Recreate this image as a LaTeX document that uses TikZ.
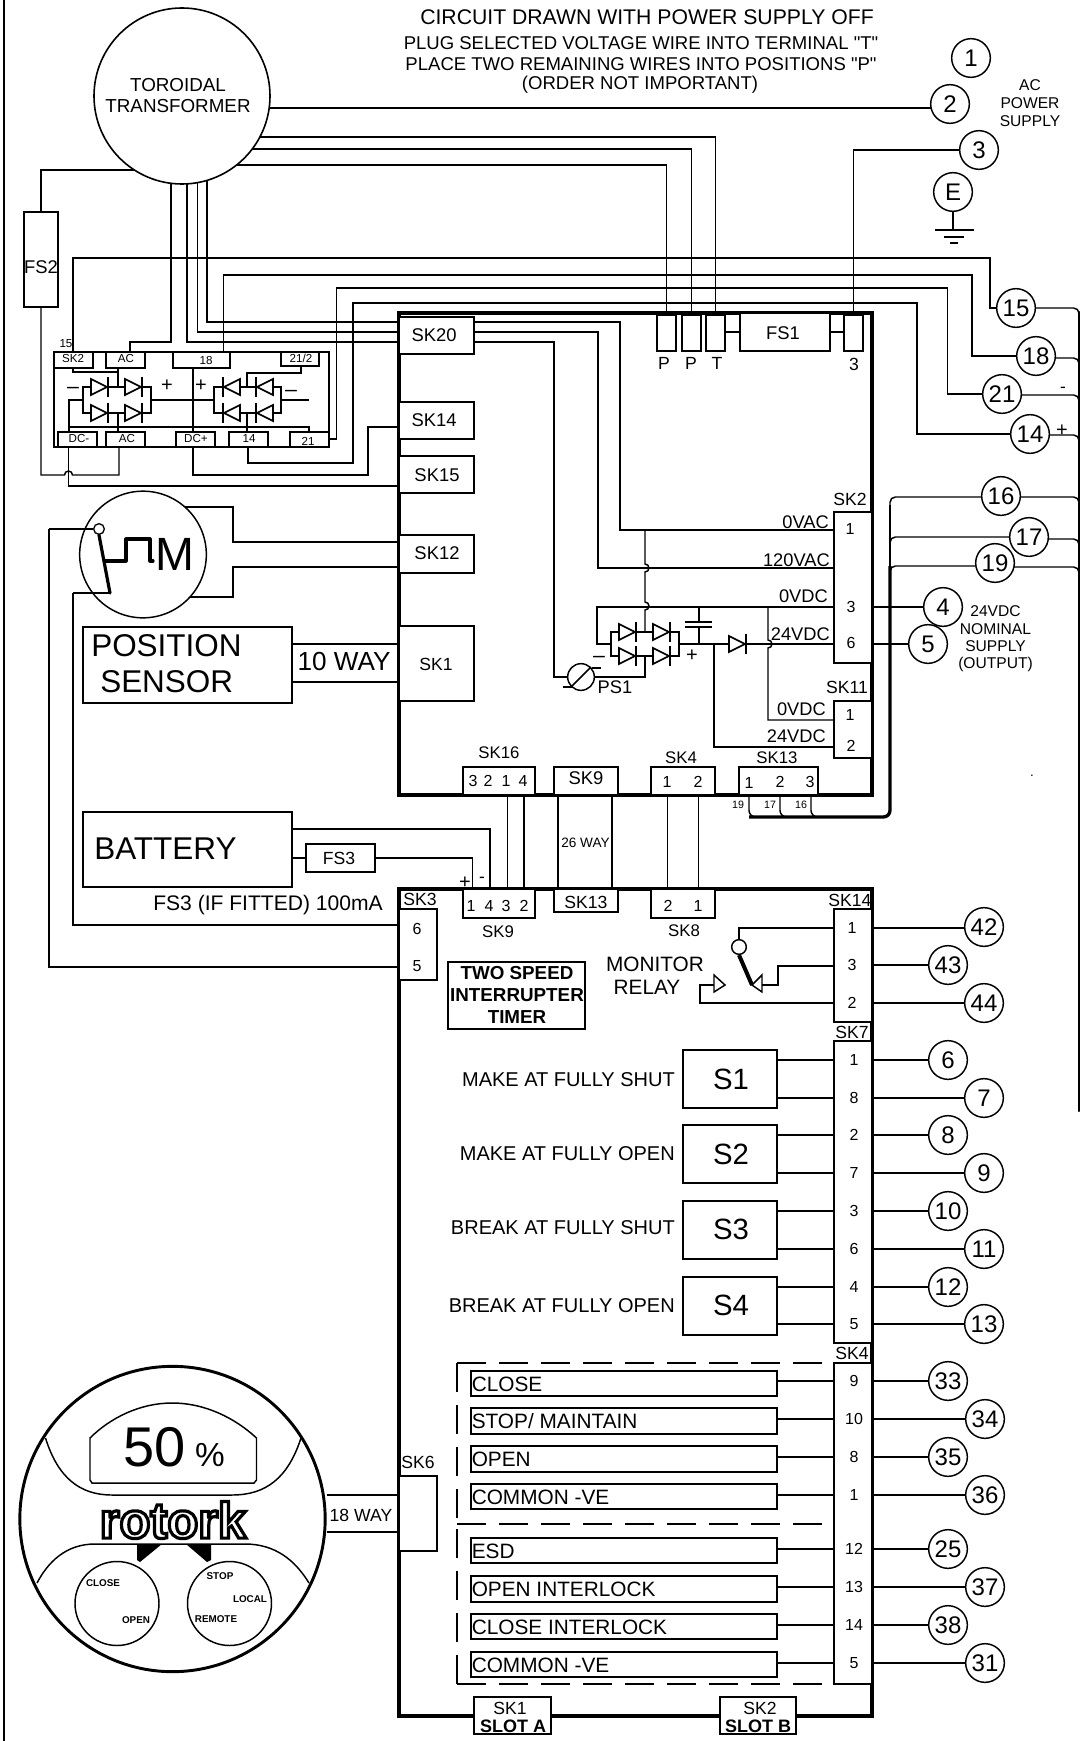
\documentclass[tikz,border=0pt]{standalone}
\usepackage{fontspec}
\setmainfont{Liberation Sans}
\newfontfamily\plainfont{Liberation Sans}
\usetikzlibrary{fit,backgrounds}
\def\bx#1#2#3#4{\node[#1, fit={(#3) (#4)}] (#2) {};}
\def\hop{arc[start angle=-90,end angle=90,radius=3pt]}
\tikzset{
  every node/.style={inner sep=0pt},
  fs/.style={font=\fontsize{#1}{#1}\selectfont},
  wire/.style={line width=1.1pt},
  box/.style={draw, fill=white, line width=1.1pt},
  board/.style={draw, line width=2.7pt},
  inbox/.style={draw, fill=white, line width=1.6pt},
  term/.style={circle, draw, fill=white, line width=1.1pt, minimum size=29pt, fs=18},
  bridge/.style={draw, line width=1.7pt},
  dashwire/.style={line width=1.1pt, dash pattern=on 21.5pt off 10pt},
  diode/.pic={
    \draw[line width=1.3pt, fill=white] (-9,-8) -- (7,0) -- (-9,8) -- cycle;
    \draw[line width=1.6pt] (8,-10) -- (8,10);
  }
}
\begin{document}
\begin{tikzpicture}[x=0.75pt, y=-0.75pt, line join=miter]
  \useasboundingbox (0,0) rectangle (1081,1741);
  \draw[line width=2.2pt] (4,0) -- (4,1741);

  % boards
  \bx{board}{brdu}{399,313}{872,795}
  \bx{board}{brdl}{399,889}{872,1716}

  % top board sockets
  \bx{box}{sk20}{399,317}{474,354}
  \bx{box}{sk14u}{399,402}{474,439}
  \bx{box}{sk15}{399,456}{474,493}
  \bx{box}{sk12}{399,535}{474,573}
  \bx{box}{sk1}{399,626}{474,701}
  \bx{box}{pa}{657,315}{676,351}
  \bx{box}{pb}{682,315}{701,351}
  \bx{box}{tbox}{706,315}{725,351}
  \bx{box}{fs1}{740,313}{830,351}
  \bx{box}{fb3}{844,315}{863,351}
  \bx{box}{sk2b}{834,512}{872,663}
  \bx{box}{sk11}{834,701}{872,758}
  \bx{box}{sk16}{463,767}{535,795}
  \bx{box}{sk9u}{554,767}{618,795}
  \bx{box}{sk4u}{651,767}{715,795}
  \bx{box}{sk13u}{739,767}{818,795}

  % lower board sockets
  \bx{box}{sk9l}{463,889}{535,918}
  \bx{box}{sk13l}{554,889}{618,912}
  \bx{box}{sk8}{651,889}{715,918}
  \bx{box}{sk3}{399,909}{437,980}
  \bx{box}{sk6}{399,1476}{437,1551}
  \bx{box}{sk14l}{834,909}{872,1022}
  \bx{box}{sk7}{834,1041}{872,1343}
  \bx{box}{sk4r}{834,1363}{872,1684}
  \bx{box}{slota}{474,1697}{551,1734}
  \bx{box}{slotb}{720,1697}{796,1734}
  \node[draw, fill=white, line width=1.6pt, fit={(448,962) (585,1029)}] (twospeed) {};

  % outside parts
  \node[circle, draw, fill=white, line width=1.2pt, minimum size=132pt] (tr) at (182,96) {};
  \bx{box}{fs2}{24,212}{58,307}
  \node[draw, line width=1.4pt, fit={(54,352) (329,447)}] (rect) {};
  \bx{box}{rsk2}{54,352}{93,368}
  \bx{box}{ract}{106,352}{145,368}
  \bx{box}{r18}{173,352}{230,368}
  \bx{box}{r212}{281,352}{319,366}
  \bx{box}{rdcm}{58,432}{97,447}
  \bx{box}{racb}{106,432}{145,447}
  \bx{box}{rdcp}{176,432}{215,447}
  \bx{box}{r14}{229,432}{268,447}
  \bx{box}{r21}{290,432}{329,447}
  \node[circle, draw, fill=white, line width=1.1pt, minimum size=95pt] (mot) at (143,554.5) {};
  \bx{box}{pos}{83,627}{292,703}
  \bx{box}{bat}{83,812}{292,887}
  \bx{box}{fs3}{306,844}{375,872}
  \node[circle, draw, line width=2.2pt, minimum size=229pt] (disp) at (172.5,1519) {};
  \foreach \n/\y in {1/1050,2/1125,3/1201,4/1277}{
    \node[box, fit={(683,\y) (777,\y+58)}] (s\n) {};
  }
  \foreach \n/\a/\b in {a/1371/1396,b/1408/1434,c/1446/1472,d/1484/1509,e/1538/1563,f/1576/1602,g/1614/1639,h/1652/1677}{
    \bx{inbox}{in\n}{471,\a}{777,\b}
  }

  % terminals
  \foreach \n/\x/\y in {1/971/58,2/950/104,3/979/150,E/953/192,15/1016/308,18/1036/356,21/1002/394,14/1030/434,
    16/1001/496,17/1029/537,19/995/563,4/943/607,5/928/644,42/984/927,43/948/965,44/984/1003,
    6/948/1060,7/984/1098,8/948/1135,9/984/1173,10/948/1211,11/984/1249,12/948/1287,13/984/1324,
    33/948/1381,34/985/1419,35/948/1457,36/985/1495,25/948/1549,37/985/1587,38/948/1625,31/985/1663}{
    \node[term] (t\n) at (\x,\y) {\n};
  }

  % wires behind the parts
  \begin{scope}[on background layer={wire}]
    \draw (tr |- 0,108) -- (t2 |- 0,108);
    \draw (tr |- 0,137) -| (tbox.north);
    \draw (tr |- 0,149) -| (pb.north);
    \draw (tr |- 0,165) -| (pa.north);
    \draw (t3) -| (fb3.north);
    \draw (tr |- 0,170) -| (fs2.north);
    \draw (fs2.south) |- (64.5,475) arc[start angle=180,end angle=0,radius=3pt] -- (119,475) -- (119,0 |- racb.south);
    \draw (171,0 |- tr) |- (130,342) -- (130,0 |- ract.north);
    \draw (187,0 |- tr) |- (sk20.west |- 0,342);
    \draw (197.5,0 |- tr) |- (sk20.west |- 0,332);
    \draw (207,0 |- tr) |- (sk20.west |- 0,322);
    \draw (sk20.east |- 0,322) -| (620,530) -- (sk2b.west |- 0,530);
    \draw (sk20.east |- 0,332) -| (598,568) -- (sk2b.west |- 0,568);
    \draw (sk20.east |- 0,342) -| (554,677) -- (576,677);
    % rectifier to the outer terminals
    \draw (73,0 |- rsk2.north) |- (990,258) |- (t15);
    \draw (223.5,0 |- r18.north) |- (972,275) |- (t18 |- 0,356);
    \draw (r21.east |- 0,439) -| (336.5,288) -| (947.5,394) -- (t21);
    \draw (248,0 |- r14.south) |- (353,463) -- (353,303) -| (917,434) -- (t14);
    \draw (193,0 |- rdcp.south) |- (368,475) |- (sk14u.west |- 0,427);
    \draw (68.5,0 |- rdcm.south) |- (sk15.west |- 0,486);
    % motor and outside parts
    \draw (mot |- 0,507) -| (233,542) -- (sk12.west |- 0,542);
    \draw (mot |- 0,597) -| (233,567) -- (sk12.west |- 0,567);
    \draw (pos.east |- 0,644) -- (sk1.west |- 0,644);
    \draw (pos.east |- 0,682) -- (sk1.west |- 0,682);
    \draw (bat.east |- 0,829) -| (490,889);
    \draw (bat.east |- fs3) -- (fs3.west);
    \draw (fs3.east) -| (472.5,889);
    \draw (73,593) |- (sk3.west |- 0,925);
    \draw (49,529) |- (sk3.west |- 0,967);
    \draw (507.5,795) -- (507.5,889);
    \draw (524,795) -- (524,889);
    \draw (558,795) -- (558,889);
    \draw (612,795) -- (612,889);
    \draw (667.5,795) -- (667.5,889);
    \draw (698.5,795) -- (698.5,889);
    \draw (disp.east |- 0,1495) -- (sk6.west |- 0,1495);
    \draw (disp.east |- 0,1532) -- (sk6.west |- 0,1532);
    % output bus on the right
    \foreach \n/\y in {15/308,18/358,21/395,14/435,16/497,17/539,19/567}{
      \draw[rounded corners=4pt] (t\n |- 0,\y) -- (1079,\y) -- (1079,\y+14);
    }
    \draw[line width=1.6pt, line cap=round] (1079,312) -- (1079,1111);
    \foreach \n/\y in {16/497,17/537,19/566}{
      \draw[rounded corners=4pt] (t\n |- 0,\y) -- (890,\y) -- (890,\y+14);
    }
    \draw (890,505) -- (890,570);
    \draw[line width=2.5pt, rounded corners=5pt] (890,566) |- (749,817);
    \draw[rounded corners=5pt] (749,795) -- (749,817) -- (760,817);
    \draw[rounded corners=5pt] (780,795) -- (780,817) -- (790,817);
    \draw[rounded corners=5pt] (811,795) -- (811,817) -- (822,817);
    \draw (sk2b.east |- 0,607) -- (t4);
    \draw (sk2b.east |- 0,644) -- (t5);
  \end{scope}

  % rectifier insides
  \node[bridge, fit={(83,387) (151,413)}] (bra) {};
  \node[bridge, fit={(214,387) (281,413)}] (brb) {};
  \node[bridge, fit={(611,632) (679,656)}] (brc) {};
  \draw[wire] (73,0 |- rsk2.south) |- (118,372);
  \draw[wire] (118,0 |- ract.south) -- (118,0 |- bra.north);
  \draw[wire] (bra.west) -| (69,0 |- rdcm.north);
  \draw[wire] (69,427) -| (309,0 |- r21.north);
  \draw[wire] (309,400) -- (brb.east);
  \draw[wire] (bra.east) -- (brb.west);
  \draw[wire] (193,0 |- r18.south) -- (193,0 |- rdcp.north);
  \draw[wire] (301,0 |- r212.south) |- (247,373) -- (247,0 |- brb.north);
  \draw[wire] (118,0 |- bra.south) -- (118,0 |- racb.north);
  \draw[wire] (247,0 |- brb.south) -- (247,0 |- r14.north);
  \foreach \x in {100,134}{
    \pic at (\x,387) {diode};
    \pic at (\x,413) {diode};
  }
  \foreach \x in {231,264}{
    \pic[xscale=-1] at (\x,387) {diode};
    \pic[xscale=-1] at (\x,413) {diode};
  }

  % power supply part of the top board
  \node[circle, draw, fill=white, line width=1.1pt, minimum size=20pt] (ps1) at (581,677) {};
  \draw[wire] (ps1.east) -| (brc.south);
  \draw[wire] (ps1.south west) -- (ps1.north east);
  \draw[wire] (592,668) -- (601,668);
  \draw[wire] (563,687) -- (573,687);
  \draw[wire] (brc.north) -- (645,610) \hop -- (645,572) \hop -- (645,530);
  \draw[wire] (brc.west) -- (597,644) |- (sk2b.west |- 0,607);
  \draw[wire] (brc.east) -- (sk2b.west |- 0,644);
  \draw[wire] (699,607) -- (699,622) (685,622) -- (712,622) (685,627) -- (712,627) (699,627) -- (699,644);
  \draw[wire] (714,644) |- (sk11.west |- 0,747);
  \draw[wire] (sk11.west |- 0,720) -- (768,720) -- (768,648) \hop -- (768,607);
  \foreach \x in {628,662}{
    \pic at (\x,632) {diode};
    \pic at (\x,656) {diode};
  }
  \pic at (738,644) {diode};

  % fuse links and earth
  \draw[line width=2pt] (tbox.east |- 0,332) -- (fs1.west |- 0,332);
  \draw[line width=2pt] (fs1.east |- 0,332) -- (fb3.west |- 0,332);
  \draw[wire] (tE.south) -- (953,230);
  \draw[wire] (935,230) -- (974,230) (944,237) -- (964,237) (950,243) -- (958,243);

  % motor and its limit switch
  \node[circle, draw, fill=white, line width=1pt, minimum size=8pt] (swc) at (99,529) {};
  \draw[wire] (49,529) -- (swc.west);
  \draw[wire] (73,593) -- (110,593);
  \draw[line width=2.4pt, line cap=round] (swc.south) -- (110,593);
  \draw[line width=2.4pt, line cap=round, line join=round] (105,561) -- (126,561) -- (126,539) -- (150,539) -- (150,561) -- (153,561);

  % monitor relay
  \node[circle, draw, fill=white, line width=1.1pt, minimum size=11pt] (relc) at (739,947) {};
  \draw[wire] (sk14l.west |- 0,928) -| (relc.north);
  \draw[line width=3pt] (relc.south) -- (752,985);
  \draw[wire, fill=white] (762,975) -- (752,985) -- (762,992) -- cycle;
  \draw[wire] (762,985) -- (778,985) |- (sk14l.west |- 0,966);
  \draw[wire, fill=white] (714,975) -- (725,985) -- (714,992) -- cycle;
  \draw[wire] (714,985) -- (700,985) |- (sk14l.west |- 0,1003);
  \draw[wire] (sk14l.east |- 0,928) -- (t42.west |- 0,928);
  \draw[wire] (sk14l.east |- 0,965) -- (t43.west);
  \draw[wire] (sk14l.east |- 0,1003) -- (t44.west);

  % switches and inputs
  \foreach \n/\y/\s in {6/1060/1,7/1098/1,8/1135/2,9/1173/2,10/1211/3,11/1249/3,12/1287/4,13/1324/4}{
    \draw[wire] (s\s.east |- 0,\y) -- (sk7.west |- 0,\y);
    \draw[wire] (sk7.east |- 0,\y) -- (t\n.west);
  }
  \foreach \n/\y/\b in {33/1381/a,34/1419/b,35/1457/c,36/1495/d,25/1549/e,37/1587/f,38/1625/g,31/1663/h}{
    \draw[wire] (in\b.east |- 0,\y) -- (sk4r.west |- 0,\y);
    \draw[wire] (sk4r.east |- 0,\y) -- (t\n.west);
  }
  \draw[dashwire] (457,1363) -- (834,1363);
  \draw[dashwire] (457,1524) -- (834,1524);
  \draw[dashwire] (457,1684) -- (834,1684);
  \draw[dashwire] (457,1363) -- (457,1524);
  \draw[dashwire] (457,1684) -- (457,1524);

  % actuator display
  \draw[wire] (45.5,1438) .. controls (58,1478) and (80,1495) .. (112,1495) -- (232,1495) .. controls (266,1495) and (288,1478) .. (301,1438);
  \draw[wire] (37,1583) .. controls (48,1562) and (66,1544) .. (95,1544) -- (245,1544) .. controls (275,1544) and (295,1560) .. (309,1583);
  \draw[wire] (90,1438) .. controls (110,1418) and (140,1403) .. (172,1403) .. controls (205,1403) and (235,1418) .. (256.5,1438) -- (256.5,1480) -- (254,1483) -- (92,1483) -- (90,1480) -- cycle;
  \fill (137,1544) -- (162,1544) -- (140,1562) -- (137,1560) -- cycle;
  \fill (186,1544) -- (211,1544) -- (211,1560) -- (207,1562) -- cycle;
  \node[circle, draw, line width=1.1pt, minimum size=63pt] (kna) at (117,1603.5) {};
  \node[circle, draw, line width=1.1pt, minimum size=63pt] (knb) at (229.5,1603.5) {};
  \node[font=\fontsize{38}{38}\selectfont\bfseries] (logo) at (173,1520) {\special{pdf:code 1 Tr 2.4 w}rotork\special{pdf:code 0 Tr 1 w}};

  % texts
  \node[fs=15.9] (hda) at (647,17) {CIRCUIT DRAWN WITH POWER SUPPLY OFF};
  \node[fs=13.9] (hdb) at (641,43) {\plainfont PLUG SELECTED VOLTAGE WIRE INTO TERMINAL "T"};
  \node[fs=13.9] (hdc) at (641,64) {\plainfont PLACE TWO REMAINING WIRES INTO POSITIONS "P"};
  \node[fs=13.9] (hdd) at (640,85) {(ORDER NOT IMPORTANT)};
  \node[font=\fontsize{14.1}{15.75}\selectfont, align=center] (trt) at (178,96) {TOROIDAL\\TRANSFORMER};
  \node[font=\fontsize{11.7}{13.5}\selectfont, align=center] (acp) at (1030,103) {AC\\POWER\\SUPPLY};
  \node[font=\fontsize{11.7}{13}\selectfont, align=center] (vdc) at (995.5,639) {24VDC\\NOMINAL\\SUPPLY\\(OUTPUT)};
  \node[font=\fontsize{14.1}{16.5}\selectfont\bfseries, align=center] (tst) at (517,995) {TWO SPEED\\INTERRUPTER\\TIMER};
  \foreach \x/\y/\t in {434/335/SK20,434/420/SK14,437/475/SK15,437/553/SK12,783/333/FS1,586/778/SK9,41/267/FS2}{
    \node[fs=13.8] (n\x-\y) at (\x,\y) {\t};
  }
  \foreach \x/\y/\t in {664/363/P,691/363/P,717/363/T,854/364/3,436/664/SK1,339/858/FS3,850/499/SK2,847/687/SK11,852/1032/SK7,852/1353/SK4,418/1462/SK6,420/899/SK3,510/1708/SK1,760/1708/SK2,586/902/SK13,850/900/SK14,361/1515/{18 WAY}}{
    \node[fs=13.2] (n\x-\y) at (\x,\y) {\t};
  }
  \foreach \x/\y/\t in {499/753/SK16,681/758/SK4,777/758/SK13,498/932/SK9,684/931/SK8}{
    \node[fs=12.6] (n\x-\y) at (\x,\y) {\t};
  }
  \foreach \x/\y/\t in {473/781/3,488/781/2,506/781/1,523/781/4,471/906/1,489/906/4,506/906/3,524/906/2,667/782/1,698/782/2,749/783/1,780/782/2,810/782/3,668/906/2,698/906/1,850/529/1,851/607/3,851/643/6,850/715/1,851/746/2,852/928/1,852/965/3,852/1003/2,417/929/6,417/966/5,854/1060/1,854/1098/8,854/1135/2,854/1173/7,854/1211/3,854/1249/6,854/1287/4,854/1324/5,854/1381/9,854/1419/10,854/1457/8,854/1495/1,854/1549/12,854/1587/13,854/1625/14,854/1663/5}{
    \node[fs=12] (n\x-\y) at (\x,\y) {\t};
  }
  \foreach \x/\y/\t in {829/522/0VAC,830/560/120VAC,828/596/0VDC,830/634/24VDC,826/709/0VDC,826/736/24VDC}{
    \node[fs=13.7, anchor=east] (n\x-\y) at (\x,\y) {\t};
  }
  \foreach \x/\y/\t in {73/359/SK2,126/359/AC,206/361/18,79/439/DC-,127/439/AC,196/439/DC+,249/439/14,308/441/21,66/344/15}{
    \node[fs=8.7] (n\x-\y) at (\x,\y) {\t};
  }
  \node[fs=8.7] (r212t) at (301,358) {21/2};
  \foreach \x/\y/\t in {738/805/19,770/805/17,801/805/16}{
    \node[fs=8] (n\x-\y) at (\x,\y) {\t};
  }
  \foreach \x/\y/\t in {167/386/+,201/386/+,692/656/+,1062/431/+,465/883/+}{
    \node[fs=15] (n\x-\y) at (\x,\y) {\t};
  }
  \foreach \x/\y/\t in {73/390/--,291/393/--,599/659/--}{
    \node[fs=16] (n\x-\y) at (\x,\y) {\t};
  }
  \node[fs=13] (mnsa) at (1063,390) {-};
  \node[fs=13] (mnsb) at (482,880) {-};
  \node[fs=10] (dot) at (1032,776) {.};
  \node[fs=13.7] (ps1t) at (615,687) {PS1};
  \node[fs=10.2] (way26) at (585.5,843) {26 WAY};
  \node[fs=19.6] (way10) at (344,661) {10 WAY};
  \node[fs=35] (mtxt) at (175,554) {M};
  \node[fs=23.6, anchor=west] (post) at (91,646) {POSITION};
  \node[fs=23.6, anchor=west] (sent) at (100,682) {SENSOR};
  \node[fs=23.6, anchor=west] (batt) at (94,849) {BATTERY};
  \node[fs=15.8] (fs3n) at (268,905) {FS3 (IF FITTED) 100mA};
  \node[fs=15.6] (mont) at (655,964) {MONITOR};
  \node[fs=15.6] (relt) at (647,987) {RELAY};
  \node[fs=22] (s1t) at (731,1079) {S1};
  \node[fs=22] (s2t) at (731,1154) {S2};
  \node[fs=22] (s3t) at (731,1229) {S3};
  \node[fs=22] (s4t) at (731,1305) {S4};
  \node[fs=15, anchor=east] (mas) at (675,1080) {MAKE AT FULLY SHUT};
  \node[fs=15, anchor=east] (mao) at (675,1154) {MAKE AT FULLY OPEN};
  \node[fs=15, anchor=east] (bas) at (675,1228) {BREAK AT FULLY SHUT};
  \node[fs=15, anchor=east] (bao) at (675,1306) {BREAK AT FULLY OPEN};
  \foreach \y/\t in {1384/CLOSE,1421/{STOP/ MAINTAIN},1459/OPEN,1497/COMMON -VE,1551/ESD,1589/OPEN INTERLOCK,1627/CLOSE INTERLOCK,1665/COMMON -VE}{
    \node[fs=15.6, anchor=west] (i\y) at (471.5,\y) {\t};
  }
  \node[font=\fontsize{13.5}{13.5}\selectfont\bfseries] (sla) at (513,1726) {SLOT A};
  \node[font=\fontsize{13.5}{13.5}\selectfont\bfseries] (slb) at (758,1726) {SLOT B};
  \node[fs=42] (pct) at (155,1447) {50};
  \node[fs=25] (pcs) at (210,1455) {\%};
  \foreach \x/\y/\t in {103/1583/CLOSE,136/1620/OPEN,220/1576/STOP,250/1599/LOCAL,216/1619/REMOTE}{
    \node[font=\fontsize{7.4}{7.4}\selectfont\bfseries] (n\x-\y) at (\x,\y) {\t};
  }
\end{tikzpicture}
\end{document}
